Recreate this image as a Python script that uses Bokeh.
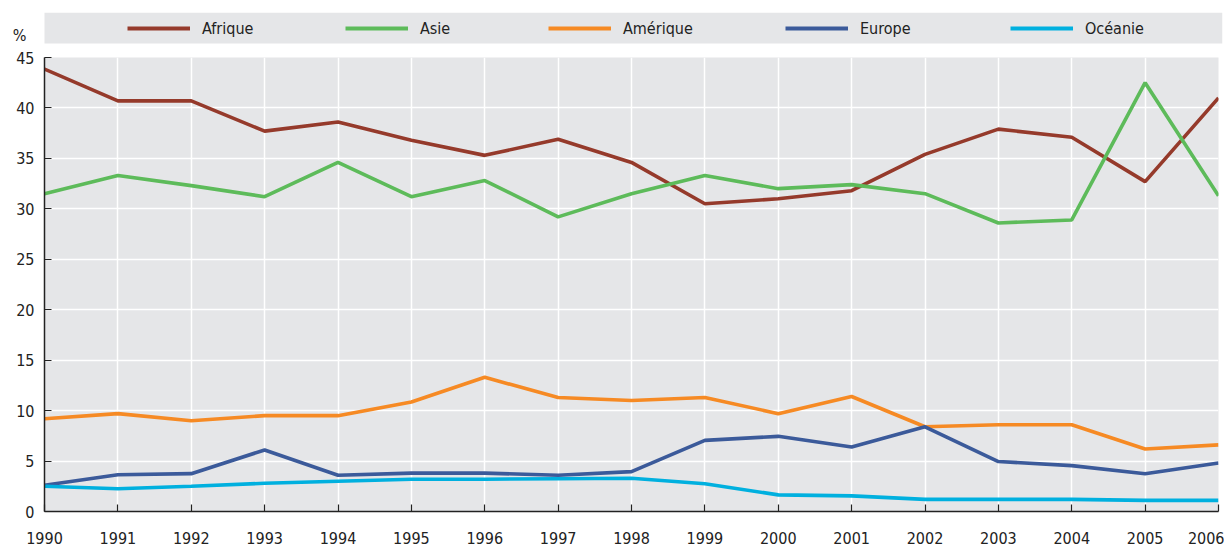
from bokeh.plotting import figure
from bokeh.models import Range1d, FixedTicker, Legend, LegendItem, Label, BoxAnnotation
from bokeh.embed import file_html
from bokeh.resources import INLINE

years = list(range(1990, 2007))
afrique = [43.85, 40.7, 40.7, 37.7, 38.6, 36.8, 35.3, 36.9, 34.6, 30.5, 31.0, 31.8, 35.4, 37.9, 37.1, 32.7, 41.0]
asie = [31.5, 33.3, 32.3, 31.2, 34.6, 31.2, 32.8, 29.2, 31.5, 33.3, 32.0, 32.4, 31.5, 28.6, 28.9, 42.5, 31.3]
amerique = [9.2, 9.7, 9.0, 9.5, 9.5, 10.85, 13.3, 11.3, 11.0, 11.3, 9.7, 11.4, 8.4, 8.6, 8.6, 6.2, 6.6]
europe = [2.6, 3.65, 3.75, 6.1, 3.6, 3.8, 3.8, 3.6, 3.95, 7.05, 7.45, 6.4, 8.4, 4.95, 4.55, 3.75, 4.8]
oceanie = [2.5, 2.25, 2.5, 2.8, 3.0, 3.2, 3.2, 3.25, 3.3, 2.75, 1.65, 1.55, 1.2, 1.2, 1.2, 1.1, 1.1]

series_names = ["Afrique", "Asie", "Amérique", "Europe", "Océanie"]
series_values = [afrique, asie, amerique, europe, oceanie]
series_colors = ["#953a2b", "#5dbb5a", "#f68a24", "#3b5a9a", "#00b0df"]
y_ticks = [0, 5, 10, 15, 20, 25, 30, 35, 40, 45]
unit_label = "%"

FONT = "'DejaVu Sans Condensed', 'Liberation Sans', sans-serif"
BG = "#e5e6e8"
TXT = "#222222"

# ---- legend band figure (pixel-like coordinates) ----
top = figure(width=1224, height=44, x_range=Range1d(0, 1222), y_range=Range1d(0, 32),
             output_backend="svg", toolbar_location=None,
             x_axis_location=None, y_axis_location=None,
             min_border_left=0, min_border_right=2, min_border_top=12, min_border_bottom=0)
top.background_fill_color = "white"
top.border_fill_color = "white"
top.outline_line_color = None
top.grid.visible = False
top.add_layout(BoxAnnotation(left=44, right=1222, bottom=1, top=32, fill_color=BG,
                             fill_alpha=1, line_color=None, level="underlay"))
top.add_layout(Label(x=26, y=9, text=unit_label, text_align="right", text_baseline="middle",
                     text_font=FONT, text_font_size="16px", text_color=TXT))

legend_x = [127, 345, 548, 785, 1010]
for name, vals, col, lx in zip(series_names, series_values, series_colors, legend_x):
    r = top.line(years, vals, line_color=col, line_width=4, visible=False)
    lg = Legend(items=[LegendItem(label=name, renderers=[r])], location=(lx, 6),
                padding=0, margin=0, spacing=0, glyph_width=63, glyph_height=20,
                label_height=20, label_standoff=12, border_line_color=None,
                background_fill_alpha=0, inactive_fill_alpha=0, label_text_font=FONT,
                label_text_font_size="16px", label_text_color=TXT)
    top.add_layout(lg, "center")

# ---- main chart ----
p = figure(width=1224, height=505, x_range=Range1d(1990, 2006), y_range=Range1d(0, 45),
           output_backend="svg", toolbar_location=None,
           min_border_left=44, min_border_right=6, min_border_top=13, min_border_bottom=38)
p.background_fill_color = BG
p.border_fill_color = "white"
p.outline_line_color = None

for name, vals, col in zip(series_names, series_values, series_colors):
    p.line(years, vals, line_color=col, line_width=3.6)

p.xaxis.ticker = FixedTicker(ticks=years)
p.yaxis.ticker = FixedTicker(ticks=y_ticks)
for ax in (p.xaxis[0], p.yaxis[0]):
    ax.axis_line_color = "#222222"
    ax.axis_line_width = 1.5
    ax.major_tick_line_color = "#222222"
    ax.major_tick_line_width = 1.2
    ax.major_tick_in = 7
    ax.major_tick_out = 0
    ax.minor_tick_line_color = None
    ax.major_label_text_font = FONT
    ax.major_label_text_font_size = "16px"
    ax.major_label_text_color = TXT
p.xaxis.major_label_standoff = 20
p.yaxis.major_label_standoff = 10

p.xgrid.grid_line_color = "white"
p.xgrid.grid_line_width = 1.5
p.ygrid.grid_line_color = "white"
p.ygrid.grid_line_width = 1.5

open("out.html", "w").write(file_html([top, p], INLINE))
